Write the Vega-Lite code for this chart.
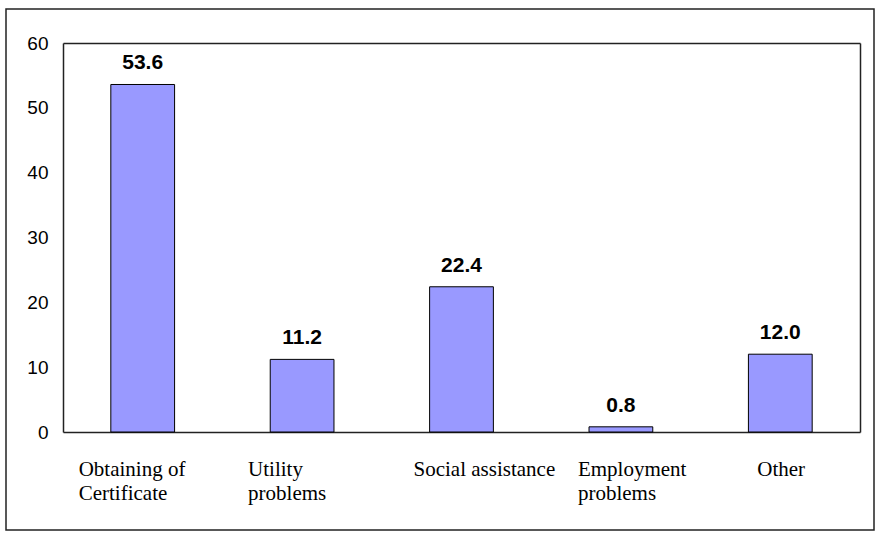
{
  "$schema": "https://vega.github.io/schema/vega-lite/v6.json",
  "width": 868,
  "height": 521,
  "autosize": {"type": "none"},
  "padding": {"left": 6, "top": 9, "right": 1, "bottom": 3},
  "background": "white",
  "config": {
    "view": {"stroke": "#222", "strokeWidth": 1.5},
    "axis": {"grid": false, "ticks": false, "domainColor": "#222", "domainWidth": 1.5, "title": null}
  },
  "data": {
    "values": [
      {"category": "Obtaining of Certificate", "value": 53.6},
      {"category": "Utility problems", "value": 11.2},
      {"category": "Social assistance", "value": 22.4},
      {"category": "Employment problems", "value": 0.8},
      {"category": "Other", "value": 12.0}
    ]
  },
  "layer": [
    {
      "mark": {"type": "bar", "fill": "#9999FF", "stroke": "#000", "strokeWidth": 1},
      "encoding": {
        "x": {
          "field": "category", "type": "nominal", "sort": null,
          "scale": {"range": [57, 854], "paddingInner": 0.6, "paddingOuter": 0.3},
          "axis": {
            "orient": "bottom", "offset": -98, "labelAngle": 0,
            "labelAlign": "left", "labelBaseline": "top", "labelPadding": 26,
            "labelFont": "Liberation Serif", "labelFontSize": 21, "labelColor": "#000",
            "labelLineHeight": 24, "labelOverlap": false, "labelLimit": 0, "labelBound": false,
            "labelExpr": "datum.label == 'Obtaining of Certificate' ? ['Obtaining of', 'Certificate'] : datum.label == 'Utility problems' ? ['Utility', 'problems'] : datum.label == 'Employment problems' ? ['Employment', 'problems'] : datum.label",
            "labelOffset": {"expr": "datum.value == 'Obtaining of Certificate' ? -64 : datum.value == 'Utility problems' ? -54 : datum.value == 'Social assistance' ? -48 : datum.value == 'Employment problems' ? -43 : -23"}
          }
        },
        "y": {
          "field": "value", "type": "quantitative",
          "scale": {"domain": [0, 60], "range": [423, 34], "nice": false},
          "axis": {
            "orient": "left", "offset": -57, "values": [0, 10, 20, 30, 40, 50, 60],
            "labelPadding": 15, "labelFont": "Liberation Sans", "labelFontSize": 19, "labelColor": "#000"
          }
        }
      }
    },
    {
      "mark": {"type": "text", "font": "Liberation Sans", "fontWeight": "bold", "fontSize": 21, "baseline": "alphabetic", "align": "center", "dy": -15, "color": "#000"},
      "encoding": {
        "x": {
          "field": "category", "type": "nominal", "sort": null,
          "scale": {"range": [57, 854], "paddingInner": 0.6, "paddingOuter": 0.3},
          "axis": {"orient": "top", "offset": -34, "labels": false, "ticks": false, "domain": true}
        },
        "y": {
          "field": "value", "type": "quantitative",
          "scale": {"domain": [0, 60], "range": [423, 34], "nice": false},
          "axis": {"orient": "right", "offset": -14, "labels": false, "ticks": false, "domain": true}
        },
        "text": {"field": "value", "type": "quantitative", "format": ".1f"}
      }
    }
  ],
  "resolve": {"axis": {"x": "independent", "y": "independent"}}
}
